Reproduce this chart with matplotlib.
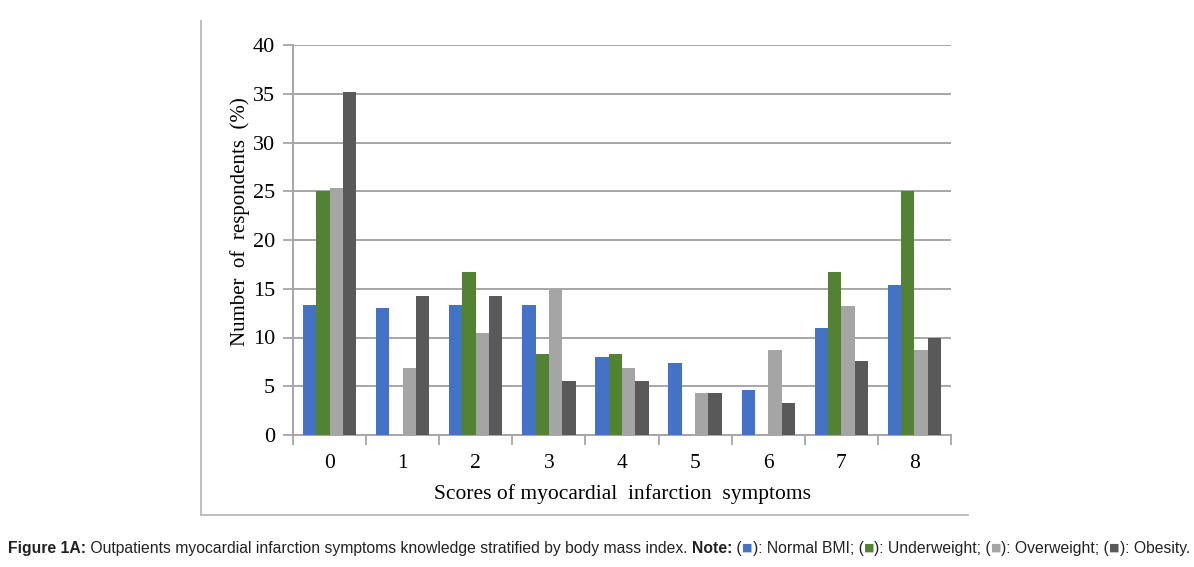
import matplotlib
matplotlib.use("Agg")
import matplotlib.pyplot as plt
import numpy as np
from matplotlib.lines import Line2D

categories = ["0", "1", "2", "3", "4", "5", "6", "7", "8"]
normal_bmi = [13.3, 13.0, 13.3, 13.3, 8.0, 7.35, 4.6, 11.0, 15.4]
underweight = [25.0, 0.0, 16.7, 8.3, 8.3, 0.0, 0.0, 16.7, 25.0]
overweight = [25.3, 6.9, 10.5, 15.0, 6.9, 4.3, 8.75, 13.2, 8.75]
obesity = [35.2, 14.3, 14.3, 5.5, 5.5, 4.3, 3.3, 7.6, 9.9]
series = [normal_bmi, underweight, overweight, obesity]
colors = ["#4472C4", "#548235", "#A5A5A5", "#595959"]
yticks = [0, 5, 10, 15, 20, 25, 30, 35, 40]

W, H = 1194, 567
fig = plt.figure(figsize=(W / 100, H / 100), dpi=100)
ax = fig.add_axes([293 / W, 1 - 435 / H, (951 - 293) / W, (435 - 45) / H])

serif = "Liberation Serif"
grid_c = "#A6A6A6"
n = len(categories)
x = np.arange(n)
bw = 0.182
for i, (vals, c) in enumerate(zip(series, colors)):
    ax.bar(x + (i - 1.5) * bw, vals, width=bw, color=c, zorder=3, linewidth=0)

ax.set_xlim(-0.5, n - 0.5)
ax.set_ylim(0, 40)
ax.set_yticks(yticks)
ax.set_yticklabels([str(t) for t in yticks], fontfamily=serif, fontsize=16)
ax.set_xticks(x)
ax.set_xticklabels(categories, fontfamily=serif, fontsize=15.5)
ax.tick_params(axis="x", which="major", length=0, pad=14)
ax.set_xticks(np.arange(-0.5, n, 1.0), minor=True)
ax.tick_params(axis="x", which="minor", length=7, width=1.3, color=grid_c, direction="out")
ax.tick_params(axis="y", length=7, width=1.3, color=grid_c, pad=6)
ax.yaxis.grid(True, color=grid_c, linewidth=1.4, zorder=0)
ax.set_axisbelow(True)
for s in ["top", "right"]:
    ax.spines[s].set_visible(False)
for s in ["left", "bottom"]:
    ax.spines[s].set_color(grid_c)
    ax.spines[s].set_linewidth(1.4)

ax.set_ylabel("Number  of  respondents  (%)", fontfamily=serif, fontsize=15)
ax.yaxis.set_label_coords(-0.066, 0.547)
ax.set_xlabel("Scores of myocardial  infarction  symptoms", fontfamily=serif, fontsize=15.5, labelpad=8)

# outer frame lines
fig.add_artist(Line2D([201 / W, 201 / W], [1 - 21 / H, 1 - 515 / H], color="#BFBFBF", linewidth=1.4))
fig.add_artist(Line2D([201 / W, 968 / W], [1 - 515 / H, 1 - 515 / H], color="#BFBFBF", linewidth=1.4))

# caption built from pieces
pieces = [
    ("Figure 1A:", "bold", "#222222"),
    (" Outpatients myocardial infarction symptoms knowledge stratified by body mass index. ", "normal", "#222222"),
    ("Note:", "bold", "#222222"),
    (" (", "normal", "#222222"),
    ("\u25A0", "normal", colors[0]),
    ("): Normal BMI; (", "normal", "#222222"),
    ("\u25A0", "normal", colors[1]),
    ("): Underweight; (", "normal", "#222222"),
    ("\u25A0", "normal", colors[2]),
    ("): Overweight; (", "normal", "#222222"),
    ("\u25A0", "normal", colors[3]),
    ("): Obesity.", "normal", "#222222"),
]
fig.canvas.draw()
renderer = fig.canvas.get_renderer()
xpos = 8
ypos = 1 - 553 / H
for txt, wt, c in pieces:
    sq = txt == "\u25A0"
    fam = "DejaVu Sans" if sq else "Liberation Sans"
    fs = 8 if sq else 11.3
    t = fig.text(xpos / W, ypos + (2.0 / H if sq else 0), txt, fontfamily=fam, fontweight=wt,
                 fontsize=fs, color=c, va="baseline", ha="left")
    bb = t.get_window_extent(renderer)
    xpos += bb.width

fig.savefig("out.png", dpi=100)
